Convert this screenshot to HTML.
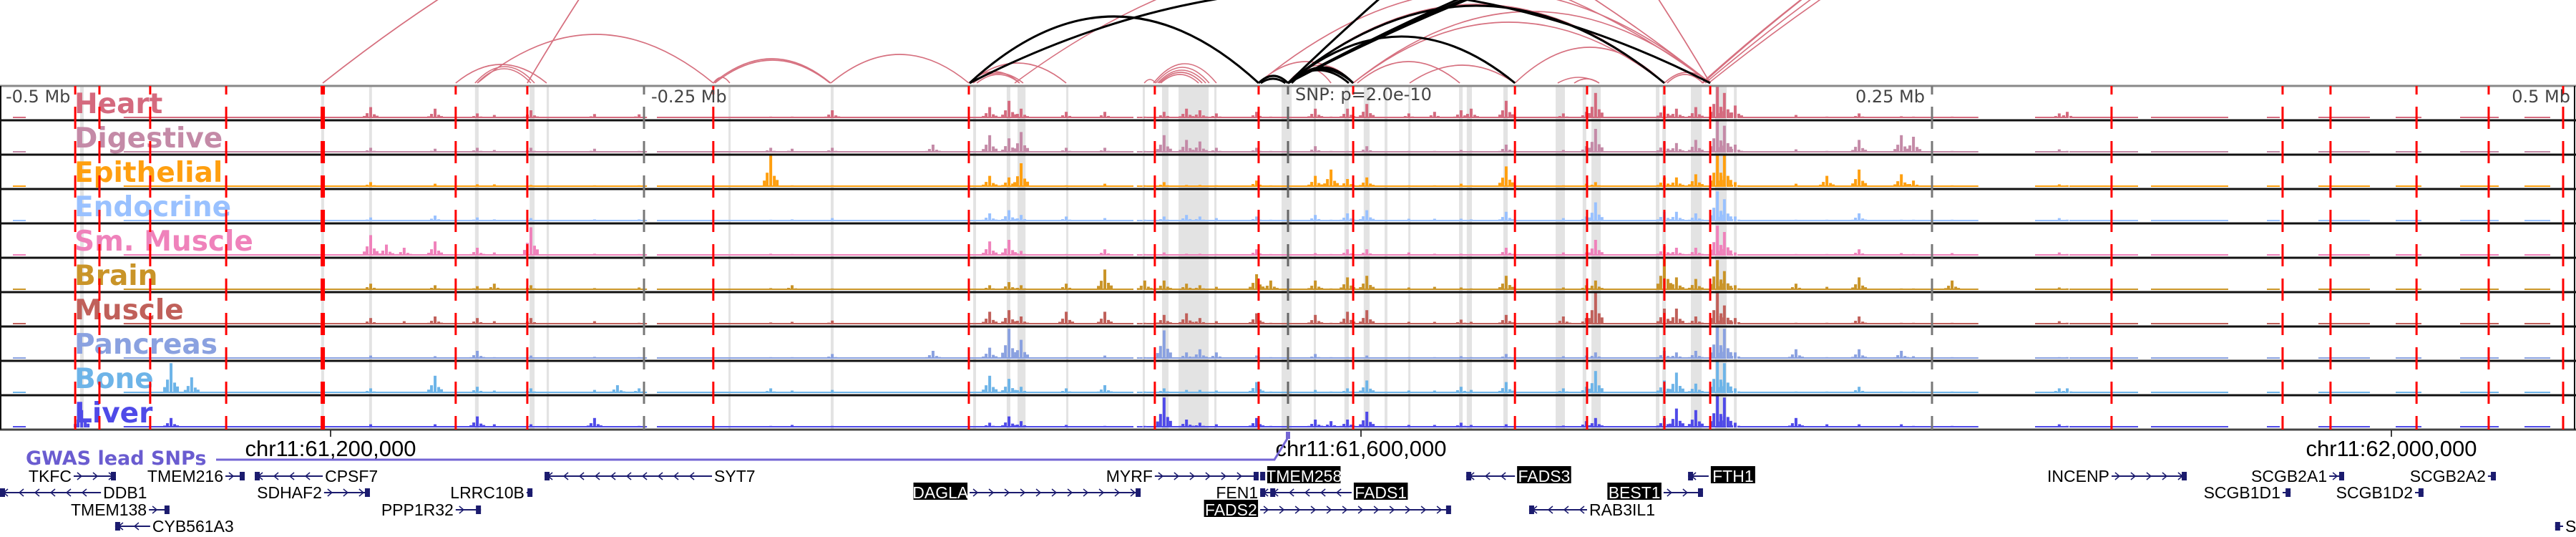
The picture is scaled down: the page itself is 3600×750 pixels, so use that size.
<!DOCTYPE html>
<html><head><meta charset="utf-8">
<style>
html,body{margin:0;padding:0;background:#fff;}
svg{display:block;}
.lbl{font-family:"DejaVu Sans","Liberation Sans",sans-serif;font-weight:bold;font-size:39px;}
.ax{font-family:"DejaVu Sans","Liberation Sans",sans-serif;font-size:24px;fill:#444;}
.gn{font-family:"Liberation Sans",sans-serif;font-size:23px;}
.chr{font-family:"Liberation Sans",sans-serif;font-size:31px;fill:#000;}
</style></head>
<body>
<svg id="chart" width="3600" height="750" viewBox="0 0 3600 750" xmlns="http://www.w3.org/2000/svg">
<g id="arcs"></g>
<g id="bands"></g>
<g id="signals"></g>
<g id="borders"></g>
<g id="labels"></g>
<g id="vlines"></g>
<g id="axis"></g>
<g id="genes"></g>
</svg>
<script>
// ---------- data ----------
const tissues = ["Heart","Digestive","Epithelial","Endocrine","Sm. Muscle","Brain","Muscle","Pancreas","Bone","Liver"];
const tissueColors = ["#d46a7e","#c48aa7","#ff9f0f","#99c1ff","#ef82bb","#c99428","#c0605a","#8aa1e0","#6db4e8","#4f4ae8"];
const peakKb = [-468.3,-433.6,-425.6,-356.1,-350,-343.1,-331.1,-314.7,-308.1,-293.9,-269.2,-260.3,-251.9,-200.8,-192.5,-176.9,-137.8,-115.8,-108.3,-103.6,-86.1,-71.1,-55.6,-48.1,-39.4,-34.2,-27.8,-12.2,-6.7,10.6,16.7,23.1,30.6,46.9,56.9,67.2,71.1,84.7,106.9,115.8,119.4,146.1,150.8,158.3,166.7,169.4,173.6,197.2,209.2,221.7,238.1,242.8,257.8,299.4,302.5];
const heartVals = [0,0,0,.35,0,0,.3,.15,.1,.25,.13,0,.12,.05,.05,.25,0,.35,.55,.3,.2,.2,.05,.2,.3,.25,.15,.2,.05,.3,.05,.3,.45,.15,.2,.25,.3,.55,.15,.2,.8,.4,.3,.35,1,.8,.4,.1,.05,.15,.06,.05,.05,.15,.2];
const digestiveVals = [0,0,0,.15,0,0,.12,.15,.08,.15,.12,0,.05,.15,.12,.15,.25,.55,.45,.65,.15,.15,.05,.55,.4,.35,.15,.15,.05,.2,.05,.05,.2,.05,.05,.08,.05,.25,.08,.2,.75,.35,.3,.4,1,.85,.25,.1,.05,.4,.55,.5,.05,.1,.05];
const epithelialVals = [0,0,0,.15,0,0,.1,.08,.08,.06,.05,0,.05,1,.05,.05,0,.35,.3,.75,.05,.1,.05,.15,.06,.06,.05,.2,.05,.35,.55,.25,.3,.05,.05,.1,.05,.65,.05,.1,.15,.3,.3,.4,1,1,.15,.1,.35,.55,.4,.2,.05,.08,.05];
const endocrineVals = [0,0,0,.12,0,0,.18,.12,.06,.1,.06,0,.06,.05,.06,.1,0,.25,.35,.2,.15,.1,.05,.15,.2,.15,.1,.15,.05,.2,.05,.25,.35,.08,.08,.08,.06,.3,.1,.15,.6,.3,.3,.25,.95,.7,.15,.05,.05,.25,.05,.05,.05,.1,.05];
const smMuscleVals = [0,0,0,.65,.35,.25,.45,.25,.1,.9,.06,0,.05,.06,.05,.05,0,.45,.5,.15,.05,.2,.05,.1,.06,.06,.05,.2,.05,.08,.05,.2,.2,.1,.06,.06,.05,.25,.1,.1,.5,.3,.25,.25,.95,.75,.1,.05,.05,.2,.08,.05,.08,.1,.05];
const brainVals = [0,0,0,.2,0,0,.15,.12,.2,.15,.06,0,.08,.06,.15,.05,0,.15,.25,.15,.2,.65,.3,.3,.2,.15,.1,.5,.3,.3,.05,.4,.45,.08,.1,.08,.05,.45,.08,.15,.3,1,.4,.35,.95,.6,.15,.2,.1,.4,.05,.05,.3,.08,.05];
const muscleVals = [0,0,0,.2,0,.1,.25,.2,.1,.2,.1,0,.05,.06,.08,.12,0,.4,.45,.25,.4,.4,.05,.3,.35,.2,.1,.35,.05,.3,.05,.4,.45,.08,.08,.15,.08,.3,.25,.2,1,.5,.5,.25,1,.6,.2,.05,.05,.25,.05,.05,.05,.1,.05];
const pancreasVals = [0,0,0,.1,0,0,.08,.25,.05,.1,.06,0,.05,.05,.05,.15,.25,.35,.95,.6,.05,.1,.05,.9,.2,.3,.2,.1,.05,.15,.05,.05,.1,.05,.05,.08,.05,.15,.08,.1,.2,.25,.2,.25,1,.95,.2,.3,.05,.3,.25,.08,.05,.05,.05];
const boneVals = [0,.95,.5,.15,0,0,.55,.2,.08,.15,.1,.25,.15,.15,.08,.1,0,.55,.45,.2,.15,.25,.05,.15,.1,.1,.08,.35,.05,.1,.05,.15,.4,.08,.08,.2,.1,.35,.15,.2,.7,.4,.65,.3,1,.95,.15,.05,.05,.2,.05,.05,.05,.15,.15];
const liverVals = [.55,.3,0,.1,0,0,.1,.35,.1,.1,.3,0,.05,.05,.08,.05,0,.15,.35,.2,.08,.05,.05,.95,.25,.15,.1,.3,.05,.25,.2,.25,.5,.08,.08,.15,.08,.1,.06,.2,.3,.3,.6,.55,1,.95,.15,.3,.1,.1,.1,.05,.05,.1,.05];
const bgStartKb = [-495,-452,-245,-55,175,290,305,335,380,400,430,455,480];
const bgEndKb   = [-490,-250,-60,170,268,300,330,365,385,420,440,470,490];
const bandStartKb = [-468.9,-375.3,-356.7,-315.6,-294.4,-287.8,-217.2,-177.5,-122.2,-109.2,-105,-86.1,-56.4,-48.9,-42.5,-28.6,-2.5,10,21.9,29.4,37.5,46.7,66.4,69.4,83.6,103.9,114.4,117.8,142.8,145.3,156.4,165.8,173.1];
const bandEndKb   = [-467.5,-374.2,-355.6,-314.2,-292.5,-286.9,-216.4,-176.4,-121.1,-107.8,-101.9,-85.6,-55.6,-46.4,-30.8,-27.8,1.4,10.8,23.6,31.7,38.6,47.5,67.8,71.4,85.3,107.5,115.8,121.4,144.2,146.7,160.6,170.3,174.2];
const markerKb = [-470.8,-461.4,-441.7,-412.2,-374.7,-323.1,-295.3,-223.1,-123.9,-51.7,-11.4,25.3,88.1,116.1,146.1,163.9,319.7,386.1,404.7,438.1,466.1,495];
const markerStrong = [0,0,0,0,1,0,0,0,0,0,0,0,0,0,0,0,0,0,0,0,0,0];
const arcFromKb = [-323.1,-315.6,-314.7,-314.7,-223.1,-222.5,-177.5,-223.1,-123.9,-123.9,-122.2,-120.8,-374.7,-295.3,-106.1,-55.8,-52.2,-51.4,-50.6,-50,-49.4,-11.4,0,25.3,25.3,26.9,47.2,88.1,-11.4,0,0,104.7,111.1,146.1,147.2,160.6,161.1,162,163.3,-374.7,-295.3,-123.6,-11.4,-10.6,0,0,1.4,0,0,-123.6,0,0,0,0];
const arcToKb   = [-287.8,-292.5,-293.9,-223.1,-177.5,-177.8,-123.9,-216.7,-86.1,-104.2,-102.8,-104.2,163.9,163.9,163.9,-51.4,-27.8,-30.6,-31.9,-33.3,-34.7,163.9,146.1,146.1,163.9,66.7,88.1,146.1,25.3,25.3,16.7,120.8,120.8,163.9,161.1,750,777.8,805,833.3,163.9,163.9,-11.4,0,-1,25.3,23.6,25.3,88.1,146.1,163.9,666.7,694.4,638.9,722.2];
const arcStrength = [26,23,20,68,34,32,40,8,28,16,14,12,383,700,180,5,27,22,18,15,12,130,110,85,100,30,25,50,30,25,20,8,6,15,12,477,500,490,482,383,700,93,10,6,20,18,22,65,108,132,318,340,300,630];
const arcBlack = [0,0,0,0,0,0,0,0,0,0,0,0,0,0,0,0,0,0,0,0,0,0,0,0,0,0,0,0,0,0,0,0,0,0,0,0,0,0,0,0,0,1,1,1,1,1,1,1,1,1,1,1,1,1];
const geneNames  = ["TKFC","TMEM216","CPSF7","SYT7","DDB1","SDHAF2","LRRC10B","TMEM138","PPP1R32","CYB561A3","MYRF","TMEM258","DAGLA","FEN1","FADS1","FADS2","FADS3","BEST1","RAB3IL1","FTH1","INCENP","SCGB2A1","SCGB2A2","SCGB1D1","SCGB1D2","S"];
const geneStartKb= [-471.4,-412.5,-401.1,-288.6,-500,-374.2,-295.6,-442.2,-323.1,-455.3,-51.7,-10.8,-123.6,-10.8,-6.9,-10.8,69.2,145.8,93.6,155.3,319.7,404.2,465.8,386.1,437.5,491.9];
const geneEndKb  = [-455,-405,-374.7,-223.6,-460.8,-356.4,-293.3,-434.2,-313.3,-441.7,-11.4,-8.9,-57.2,-6.9,24.7,63.3,88.1,161.1,116.1,163.3,348.9,410,468.9,389.2,440.8,495];
const geneRow    = [0,0,0,0,1,1,1,2,2,3,0,0,1,1,1,2,0,1,2,0,0,0,0,1,1,3];
const geneStrand = [1,1,-1,-1,-1,1,1,1,1,-1,1,-1,1,-1,-1,1,-1,1,-1,-1,1,1,1,1,1,-1];
const geneLabelSide = ["L","L","R","R","R","L","L","L","L","R","L","R","L","L","R","L","R","L","R","R","L","L","L","L","L","R"];
const geneBoxed  = [0,0,0,0,0,0,0,0,0,0,0,1,1,0,1,1,1,1,0,1,0,0,0,0,0,0];
const chrTickPos = [61200000,61600000,62000000];
const chrTickLabels = ["chr11:61,200,000","chr11:61,600,000","chr11:62,000,000"];
const relTickKb = [-500,-250,250,500];
const relTickLabels = ["-0.5 Mb","-0.25 Mb","0.25 Mb","0.5 Mb"];
const snpKb = 0;
const snpLabel = "SNP: p=2.0e-10";
const snpGenomic = 61571667;

// ---------- scales ----------
const NS="http://www.w3.org/2000/svg";
const PX_PER_KB=3.6, CENTER_X=1800;
function xOf(kb){return CENTER_X+kb*PX_PER_KB;}
function xOfBp(bp){return xOf((bp-snpGenomic)/1000);}
const TRACK_TOP=120, TRACK_H=48, SIG_H=44, ARC_BASE=116;
function trackBase(t){return TRACK_TOP+TRACK_H*(t+1)-3;}
function el(tag,attrs,parent){const e=document.createElementNS(NS,tag);for(const k in attrs)e.setAttribute(k,attrs[k]);parent.appendChild(e);return e;}
const allVals=[heartVals,digestiveVals,epithelialVals,endocrineVals,smMuscleVals,brainVals,muscleVals,pancreasVals,boneVals,liverVals];

// arcs
const gArcs=document.getElementById('arcs');
for(let i=0;i<arcFromKb.length;i++){
  const x1=xOf(arcFromKb[i]),x2=xOf(arcToKb[i]),h=arcStrength[i];
  const p=el('path',{d:`M${x1} ${ARC_BASE} Q${(x1+x2)/2} ${ARC_BASE-2*h} ${x2} ${ARC_BASE}`,fill:'none',stroke:arcBlack[i]?'#000':'#d6707f','stroke-width':arcBlack[i]?3:1.6},gArcs);
  
  
}
// bands
const gBands=document.getElementById('bands');
for(let i=0;i<bandStartKb.length;i++){
  const r=el('rect',{x:xOf(bandStartKb[i]),y:TRACK_TOP,width:Math.max(3,xOf(bandEndKb[i])-xOf(bandStartKb[i])),height:480,fill:'#e3e3e3'},gBands);
  
  
}
// signals
const gSig=document.getElementById('signals');
for(let t=0;t<tissues.length;t++){
  const g=el('g',{fill:tissueColors[t]},gSig);
  
  
  const base=trackBase(t);
  for(let i=0;i<bgStartKb.length;i++){
    const r=el('rect',{x:xOf(bgStartKb[i]),y:base-2,width:xOf(bgEndKb[i])-xOf(bgStartKb[i]),height:2},g);
    
    
  }
  const vals=allVals[t];
  for(let i=0;i<peakKb.length;i++){
    const v=vals[i]; if(!v) continue;
    const x=xOf(peakKb[i]), h=v*SIG_H;
    const parts=[[0,4,1],[-5,4,.45],[5,4,.35],[-9,4,.2],[9,4,.22]];
    for(const p of parts){
      const hh=Math.max(2,h*p[2]);
      const r=el('rect',{x:x+p[0]-2,y:base-hh,width:p[1],height:hh},g);
      
      
    }
  }
}
// borders
const gB=document.getElementById('borders');
el('line',{x1:0,y1:TRACK_TOP,x2:3600,y2:TRACK_TOP,stroke:'#888','stroke-width':3},gB);
for(let t=1;t<tissues.length;t++){
  el('line',{x1:0,y1:TRACK_TOP+TRACK_H*t,x2:3600,y2:TRACK_TOP+TRACK_H*t,stroke:'#111','stroke-width':3},gB);
}
el('line',{x1:0,y1:600,x2:3600,y2:600,stroke:'#444','stroke-width':3},gB);
el('line',{x1:1,y1:TRACK_TOP,x2:1,y2:600,stroke:'#111','stroke-width':2},gB);
el('line',{x1:3598,y1:TRACK_TOP,x2:3598,y2:600,stroke:'#111','stroke-width':2},gB);
// labels
const gL=document.getElementById('labels');
for(let t=0;t<tissues.length;t++){
  const tx=el('text',{x:104,y:TRACK_TOP+TRACK_H*t+38,class:'lbl',fill:tissueColors[t]},gL);
  tx.textContent=tissues[t];
  
  
}
// marker lines
const gV=document.getElementById('vlines');
for(let i=0;i<markerKb.length;i++){
  const x=xOf(markerKb[i]);
  const ln=el('line',{x1:x,y1:TRACK_TOP,x2:x,y2:600,stroke:'#ff0000','stroke-width':markerStrong[i]?6:3,'stroke-dasharray':'31 17','stroke-dashoffset':19},gV);
  
  
}
for(let i=0;i<relTickKb.length;i++){
  if(Math.abs(relTickKb[i])>=500) continue;
  const x=xOf(relTickKb[i]);
  const ln=el('line',{x1:x,y1:TRACK_TOP,x2:x,y2:600,stroke:'#777','stroke-width':3,'stroke-dasharray':'31 17','stroke-dashoffset':19},gV);
  
  
}
const snpLn=el('line',{x1:xOf(snpKb),y1:TRACK_TOP,x2:xOf(snpKb),y2:600,stroke:'#666','stroke-width':3,'stroke-dasharray':'31 17','stroke-dashoffset':19},gV);


// axis
const gA=document.getElementById('axis');
for(let i=0;i<relTickKb.length;i++){
  const x=xOf(relTickKb[i]);
  let tx;
  if(relTickKb[i]<=-500) tx=el('text',{x:8,y:143,class:'ax'},gA);
  else if(relTickKb[i]>=500) tx=el('text',{x:3592,y:143,class:'ax','text-anchor':'end'},gA);
  else if(relTickKb[i]<0) tx=el('text',{x:x+10,y:143,class:'ax'},gA);
  else tx=el('text',{x:x-10,y:143,class:'ax','text-anchor':'end'},gA);
  tx.textContent=relTickLabels[i];
  
  
}
const snpT=el('text',{x:xOf(snpKb)+10,y:140,class:'ax',fill:'#555'},gA);
snpT.textContent=snpLabel;


for(let i=0;i<chrTickPos.length;i++){
  const x=xOfBp(chrTickPos[i]);
  el('line',{x1:x,y1:601,x2:x,y2:610,stroke:'#000','stroke-width':1.5},gA);
  const tx=el('text',{x:x,y:637,class:'chr','text-anchor':'middle'},gA);
  tx.textContent=chrTickLabels[i];
  
  
}
// GWAS track
const gG=document.getElementById('genes');
const gw=el('text',{x:36,y:649,fill:'#6a5cd0','font-family':'"DejaVu Sans",sans-serif','font-weight':'bold','font-size':'27px'},gG);
gw.textContent='GWAS lead SNPs';


const gwl=el('polyline',{points:`302,642 ${xOf(snpKb)-19},642 ${xOf(snpKb)},611`,fill:'none',stroke:'#7466d4','stroke-width':3},gG);


const gwb=el('rect',{x:xOf(snpKb)-3,y:603,width:6,height:10,fill:'#7466d4'},gG);


// genes
const rowY=[665,688,712,735];
for(let i=0;i<geneNames.length;i++){
  const x1=Math.max(0,xOf(geneStartKb[i])),x2=xOf(geneEndKb[i]),y=rowY[geneRow[i]];
  const g=el('g',{},gG);
  
  
  el('line',{x1:x1,y1:y,x2:x2,y2:y,stroke:'#1b1b6e','stroke-width':2},g);
  for(let x=x1+8;x<x2-6;x+=22){
    const d=geneStrand[i]>0?`M${x-3} ${y-5} L${x+3} ${y} L${x-3} ${y+5}`:`M${x+3} ${y-5} L${x-3} ${y} L${x+3} ${y+5}`;
    el('path',{d:d,fill:'none',stroke:'#1b1b6e','stroke-width':1.5},g);
  }
  const ex=geneStrand[i]>0?x2-7:x1;
  el('rect',{x:ex,y:y-6,width:7,height:12,fill:'#1b1b6e'},g);
  const left=geneLabelSide[i]==='L';
  const tx=left?x1-3:x2+3;
  if(geneBoxed[i]){
    const w=geneNames[i].length*13.5+8;
    const bx=left?tx-w:tx;
    el('rect',{x:bx,y:y-14,width:w,height:24,fill:'#000'},g);
    const t=el('text',{x:bx+w/2,y:y+8,class:'gn','text-anchor':'middle',style:'fill:#ffffff'},g);
    t.textContent=geneNames[i];
    
    
  } else {
    const t=el('text',{x:tx,y:y+8,class:'gn','text-anchor':left?'end':'start',style:'fill:#000000'},g);
    t.textContent=geneNames[i];
    
    
  }
}
</script>
</body></html>
